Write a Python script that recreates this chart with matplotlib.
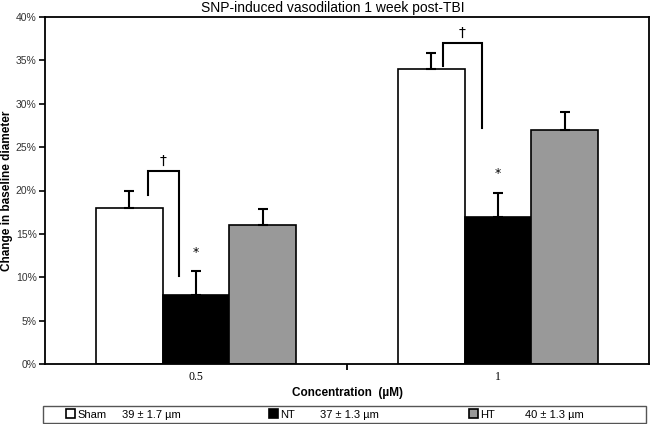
import numpy as np
import matplotlib.pyplot as plt
from matplotlib.patches import Rectangle
from matplotlib.ticker import PercentFormatter

# data (percent change)
concentrations = ['0.5', '1']
groups = ['Sham', 'NT', 'HT']
legend_text = ['39 \u00b1 1.7 \u00b5m', '37 \u00b1 1.3 \u00b5m', '40 \u00b1 1.3 \u00b5m']
means = {'Sham': [18, 34], 'NT': [8, 17], 'HT': [16, 27]}
errs = {'Sham': [1.9, 1.8], 'NT': [2.7, 2.7], 'HT': [1.9, 2.0]}
colors = {'Sham': 'white', 'NT': 'black', 'HT': '#999999'}

# significance brackets: (left x, right x, left bottom, top, right bottom)
brackets = [(-0.16, -0.057, 19.5, 22.2, 10.1),
            (0.818, 0.946, 34.3, 37.0, 27.2)]
asterisks = [(0.0, 12.8), (1.0, 22.0)]

plt.rcParams['font.family'] = ['Liberation Sans', 'DejaVu Sans']

fig = plt.figure(figsize=(6.51, 4.24), dpi=100)
ax = fig.add_axes([45 / 651, 1 - 364 / 424, 604 / 651, 347 / 424])

x = np.arange(len(concentrations))
w = 0.2215
bars = []
for i, g in enumerate(groups):
    b = ax.bar(x + (i - 1) * w, means[g], w, color=colors[g], edgecolor='black',
               linewidth=1.2, label=g, zorder=2)
    bars.append(b)
    ax.errorbar(x + (i - 1) * w, means[g],
                yerr=[np.zeros(len(x)), errs[g]], fmt='none', ecolor='black',
                elinewidth=1.5, capsize=3.5, capthick=1.5, zorder=3)

for (xl, xr, yl, yt, yr) in brackets:
    ax.plot([xl, xl, xr, xr], [yl, yt, yt, yr], color='black', lw=1.5,
            solid_joinstyle='miter', zorder=4)
    ax.text((xl + xr) / 2, yt + 0.4, '\u2020', ha='center', va='bottom',
            fontsize=10, family='DejaVu Sans')
for (xa, ya) in asterisks:
    ax.text(xa, ya, '*', ha='center', va='center', fontsize=9,
            family='DejaVu Sans')

ax.set_xlim(-0.5, 1.5)
ax.set_ylim(0, 40)
ax.set_yticks(np.arange(0, 41, 5))
ax.yaxis.set_major_formatter(PercentFormatter(decimals=0))
ax.set_xticks([0.5])
ax.set_xticklabels([])
ax.tick_params(axis='x', direction='out', length=4, width=1.3)
ax.tick_params(axis='y', direction='out', length=4, width=1.2,
               labelsize=7.5, pad=2, labelcolor='#333333')
for i, c in enumerate(concentrations):
    ax.text(x[i], -0.85, c, ha='center', va='top', fontsize=8.5,
            family='Liberation Serif')
for s in ax.spines.values():
    s.set_linewidth(1.3)

ax.set_ylabel('Change in baseline diameter', fontsize=8.5, fontweight='bold')
ax.yaxis.set_label_coords(-32 / 604, 0.5)
ax.set_xlabel('Concentration  (\u00b5M)', fontsize=8.5, fontweight='bold')
ax.xaxis.set_label_coords(0.5, -23 / 347)
fig.text(0.512, 1 - 8 / 424, 'SNP-induced vasodilation 1 week post-TBI',
         ha='center', va='center', fontsize=10)

# legend box across the bottom
fig.patches.append(Rectangle((43 / 651, 1 - 423 / 424), 603 / 651, 17 / 424,
                             transform=fig.transFigure, fill=False,
                             edgecolor='#555555', linewidth=1.0))
handle_x = [66, 269, 469]
value_x = [122, 320, 525]
for b, g, t, hx, vx in zip(bars, groups, legend_text, handle_x, value_x):
    fig.legend([b], [g], loc='center left',
               bbox_to_anchor=(hx / 651, 1 - 414.5 / 424), frameon=False,
               fontsize=8, handlelength=0.8, handleheight=0.8,
               handletextpad=0.2, borderpad=0.0, borderaxespad=0.0)
    fig.text(vx / 651, 1 - 414.5 / 424, t, ha='left', va='center', fontsize=8)

fig.savefig('out.png', dpi=100)
